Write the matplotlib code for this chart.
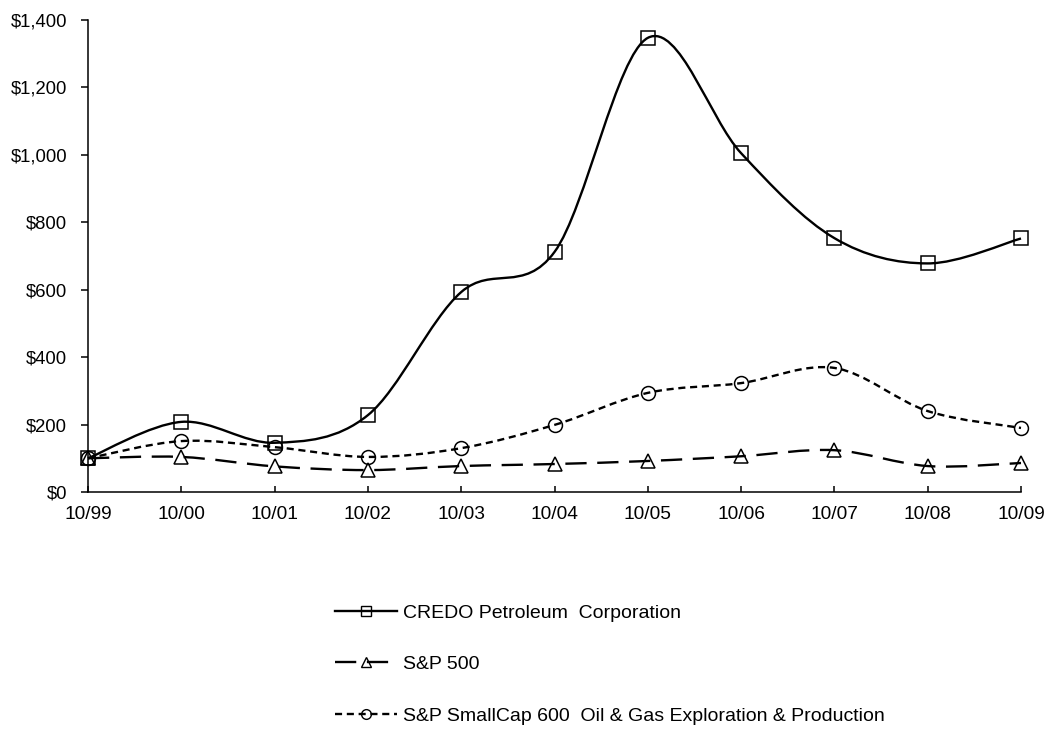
import numpy as np
import matplotlib
matplotlib.use("Agg")
import matplotlib.pyplot as plt
from matplotlib.path import Path
from matplotlib.patches import PathPatch
from matplotlib.lines import Line2D
from matplotlib.ticker import StrMethodFormatter

plt.rcParams["font.family"] = ["Liberation Sans", "DejaVu Sans"]

periods = ["10/99", "10/00", "10/01", "10/02", "10/03", "10/04",
           "10/05", "10/06", "10/07", "10/08", "10/09"]
credo = [100, 208, 146, 228, 593, 712, 1347, 1005, 753, 678, 752]
sp500 = [100, 104, 76, 65, 77, 83, 92, 106, 124, 77, 86]
smallcap = [100, 151, 133, 104, 130, 199, 294, 323, 368, 240, 190]

names = ["CREDO Petroleum  Corporation", "S&P 500",
         "S&P SmallCap 600  Oil & Gas Exploration & Production"]


def smooth_path(xs, ys):
    # Excel-style smoothed line: cubic Bezier segments with Catmull-Rom handles
    p = np.column_stack([xs, ys]).astype(float)
    pts = np.vstack([p[0], p, p[-1]])
    verts = [p[0]]
    codes = [Path.MOVETO]
    for i in range(1, len(pts) - 2):
        c1 = pts[i] + (pts[i + 1] - pts[i - 1]) / 6
        c2 = pts[i + 1] - (pts[i + 2] - pts[i]) / 6
        verts += [c1, c2, pts[i + 1]]
        codes += [Path.CURVE4] * 3
    return Path(verts, codes)


fig = plt.figure(figsize=(10.48, 7.31), dpi=100)
ax = fig.add_axes([88 / 1048, 1 - 492 / 731, 933 / 1048, 472 / 731])

x = np.arange(len(periods))
styles = [
    dict(dashes=None, marker="s", ms=10.5),
    dict(dashes=(9, 4.5), marker="^", ms=10.5),
    dict(dashes=(3, 2), marker="o", ms=10),
]
handles = []
for ys, st, name in zip([credo, sp500, smallcap], styles, names):
    ls = "-" if st["dashes"] is None else (0, st["dashes"])
    patch = PathPatch(smooth_path(x, ys), fill=False, edgecolor="black",
                      lw=1.7, linestyle=ls, clip_on=False, zorder=2)
    ax.add_patch(patch)
    ax.plot(x, ys, ls="none", marker=st["marker"], ms=st["ms"],
            mfc="none", mec="black", mew=1.1, clip_on=False, zorder=3)
    h = Line2D([], [], color="black", lw=1.7, ls=ls,
               marker=st["marker"], ms=7, mfc="none", mec="black", mew=1.0)
    handles.append(h)

ax.set_xlim(0, len(periods) - 1)
ax.set_ylim(0, 1400)
ax.set_xticks(x)
ax.set_xticklabels(periods)
ax.set_yticks(np.arange(0, 1401, 200))
ax.yaxis.set_major_formatter(StrMethodFormatter("${x:,.0f}"))
for s in ["top", "right"]:
    ax.spines[s].set_visible(False)
for s in ["left", "bottom"]:
    ax.spines[s].set_linewidth(1.1)
ax.tick_params(axis="y", direction="out", length=5, width=1.1, pad=10,
               labelsize=13.3)
ax.tick_params(axis="x", direction="in", length=4, width=1.1, pad=10,
               labelsize=13.8)

fig.legend(handles, names, loc="upper left",
           bbox_to_anchor=(335 / 1048, 1 - 604 / 731), frameon=False,
           fontsize=14, handlelength=3.2, handletextpad=0.3,
           labelspacing=1.75, borderpad=0, borderaxespad=0)

fig.savefig("out.png", dpi=100, facecolor="white")
